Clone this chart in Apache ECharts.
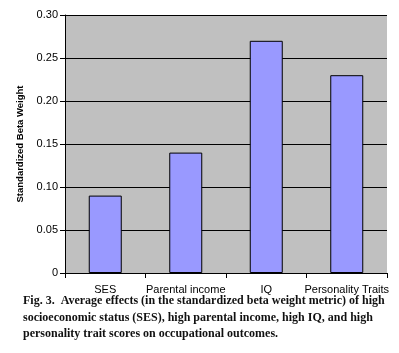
<!DOCTYPE html>
<html>
<head>
<meta charset="utf-8">
<script src="https://cdn.jsdelivr.net/npm/echarts@6/dist/echarts.min.js"></script>
<style>
  html, body { margin: 0; padding: 0; background: #fff; }
  #chart { width: 399px; height: 353px; }
</style>
</head>
<body>
<div id="chart"></div>
<script>
var categories = ["SES", "Parental income", "IQ", "Personality Traits"];
var betaWeights = [0.09, 0.14, 0.27, 0.23];
var captionLines = [
  "Fig. 3.  Average effects (in the standardized beta weight metric) of high",
  "socioeconomic status (SES), high parental income, high IQ, and high",
  "personality trait scores on occupational outcomes."
];

var myChart = echarts.init(document.getElementById("chart"));

var captionFont = "bold 12px 'Liberation Serif', 'DejaVu Serif', serif";
var caption = captionLines.map(function (line, i) {
  return {
    type: "text",
    left: 23,
    top: 295 + i * 16.5,
    style: { text: line, font: captionFont, fill: "#111" }
  };
});

var option = {
  animation: false,
  backgroundColor: "#fff",
  grid: {
    left: 65,
    right: 12,
    top: 15,
    bottom: 80,
    show: true,
    backgroundColor: "#c0c0c0",
    borderWidth: 0
  },
  xAxis: {
    type: "category",
    data: categories,
    axisLine: { lineStyle: { color: "#000", width: 1 } },
    axisTick: { show: true, length: 5, lineStyle: { color: "#000" } },
    axisLabel: {
      interval: 0,
      margin: 11,
      color: "#000",
      fontFamily: "Liberation Sans, Arial, sans-serif",
      fontSize: 11
    }
  },
  yAxis: {
    type: "value",
    min: 0,
    max: 0.3,
    interval: 0.05,
    name: "Standardized Beta Weight",
    nameLocation: "middle",
    nameGap: 29,
    nameTextStyle: {
      color: "#000",
      fontFamily: "Liberation Sans, Arial, sans-serif",
      fontSize: 9.5,
      fontWeight: "bold"
    },
    axisLine: { show: true, lineStyle: { color: "#000", width: 1 } },
    axisTick: { show: true, length: 5, lineStyle: { color: "#000" } },
    axisLabel: {
      margin: 7,
      color: "#000",
      fontFamily: "Liberation Sans, Arial, sans-serif",
      fontSize: 11,
      formatter: function (v) { return v === 0 ? "0" : v.toFixed(2); }
    },
    splitLine: { show: true, lineStyle: { color: "#000", width: 1 } }
  },
  series: [
    {
      type: "bar",
      data: betaWeights,
      barWidth: 33,
      itemStyle: { color: "#9999ff", borderColor: "#000", borderWidth: 1 }
    }
  ],
  graphic: caption
};

myChart.setOption(option);
</script>
</body>
</html>
